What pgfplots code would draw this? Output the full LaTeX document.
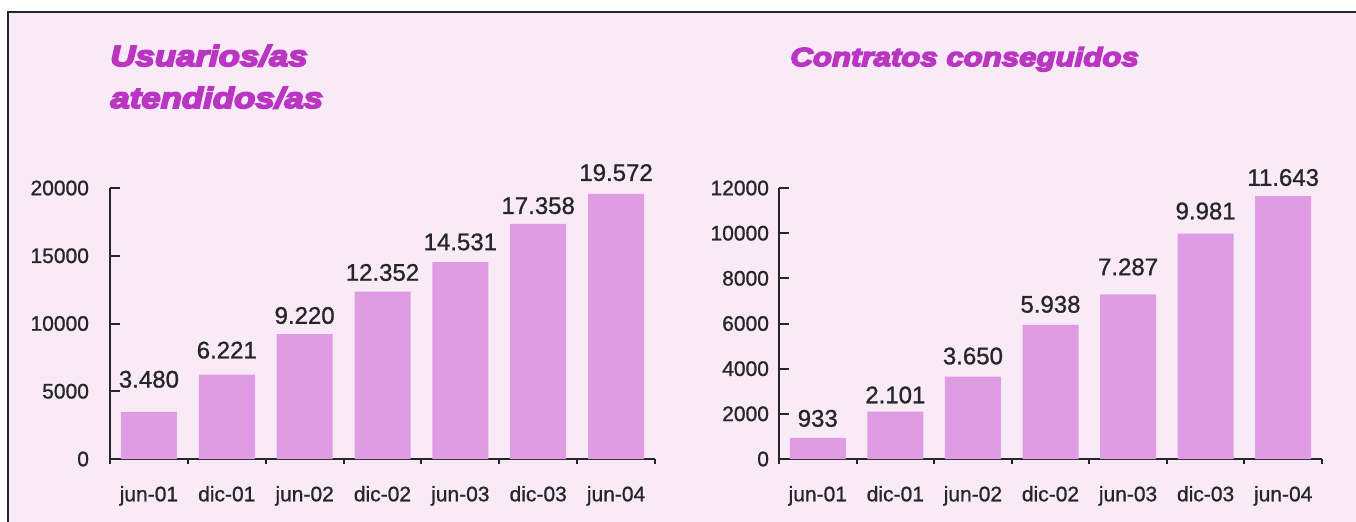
\documentclass[border=0pt]{standalone}
\usepackage{fontspec}
\setmainfont{Liberation Sans}[FakeBold=1]
\newfontfamily\titlefont[FakeStretch=1.2,FakeBold=6]{Liberation Sans}
\usepackage{pgfplots}
\usepackage{pgfplotstable}
\pgfplotsset{compat=1.18}
\definecolor{bg}{HTML}{F9EAF8}
\definecolor{barc}{HTML}{DF9CE4}
\definecolor{ttl}{HTML}{BA36C2}
\definecolor{axc}{HTML}{262626}

\pgfplotstableread{
x y lab dy
0 3480 3.480 8.5
1 6221 6.221 4.5
2 9220 9.220 1.5
3 12352 12.352 1.8
4 14531 14.531 2.3
5 17358 17.358 1.3
6 19572 19.572 2.8
}\usuarios

\pgfplotstableread{
x y lab dy
0 933 933 2
1 2101 2.101 0.5
2 3650 3.650 2.5
3 5938 5.938 2.5
4 7287 7.287 6
5 9981 9.981 3.5
6 11643 11.643 1.5
}\contratos

\pgfplotsset{mybar/.style={
  scale only axis, height=135.5pt,
  axis lines*=left,
  axis line style={axc, line width=1pt},
  xmin=-0.5, xmax=6.5, ymin=0,
  xtick={0,...,6},
  xticklabels={jun-01,dic-01,jun-02,dic-02,jun-03,dic-03,jun-04},
  major x tick style={draw=none},
  minor xtick={-0.5,0.5,...,6.5},
  minor x tick style={axc, line width=1pt},
  minor tick length=2.5pt,
  ytick style={axc, line width=1pt},
  major tick length=5pt,
  tick align=inside,
  ybar, bar width=28pt,
  tick label style={font=\fontsize{10.5}{12}\selectfont, text=axc},
  xticklabel style={font=\fontsize{10.5}{12}\selectfont, yshift=-5pt},
  /pgf/number format/assume math mode=true,
  /pgf/number format/1000 sep={},
  scaled y ticks=false,
  clip=false,
  nodes near coords,
  point meta=explicit symbolic,
  visualization depends on={\thisrow{dy} \as \dy},
  every node near coord/.append style={font=\fontsize{12}{14}\selectfont, text=axc, yshift=\dy pt},
}}

\begin{document}
\begin{tikzpicture}
\useasboundingbox (0,0) rectangle (678pt,-260.5pt);
\fill[white] (0,0) rectangle (678pt,-260.5pt);
\fill[bg] (4pt,-6pt) rectangle (680pt,-262pt);
\draw[line width=1.3pt, axc] (4pt,-262pt) -- (4pt,-6pt) -- (680pt,-6pt);

\node[anchor=base west, text=ttl, font=\titlefont\bfseries\itshape\fontsize{14.5}{16}\selectfont, inner sep=0pt] at (55pt,-33pt) {Usuarios/as};
\node[anchor=base west, text=ttl, font=\titlefont\bfseries\itshape\fontsize{14.5}{16}\selectfont, inner sep=0pt] at (55pt,-54pt) {atendidos/as};
\node[anchor=base west, text=ttl, font=\titlefont\bfseries\itshape\fontsize{13}{16}\selectfont, inner sep=0pt] at (395pt,-33pt) {Contratos conseguidos};

\begin{axis}[mybar, width=272.5pt, at={(55pt,-229.5pt)}, anchor=south west,
  ymax=20000, ytick={0,5000,...,20000},
  yticklabel style={xshift=-7pt}]
\addplot[fill=barc, draw=none] table[x=x, y=y, meta=lab] {\usuarios};
\end{axis}

\begin{axis}[mybar, width=271.5pt, at={(389.5pt,-229.5pt)}, anchor=south west,
  ymax=12000, ytick={0,2000,...,12000},
  yticklabel style={xshift=-1.5pt}]
\addplot[fill=barc, draw=none] table[x=x, y=y, meta=lab] {\contratos};
\end{axis}
\end{tikzpicture}
\end{document}
